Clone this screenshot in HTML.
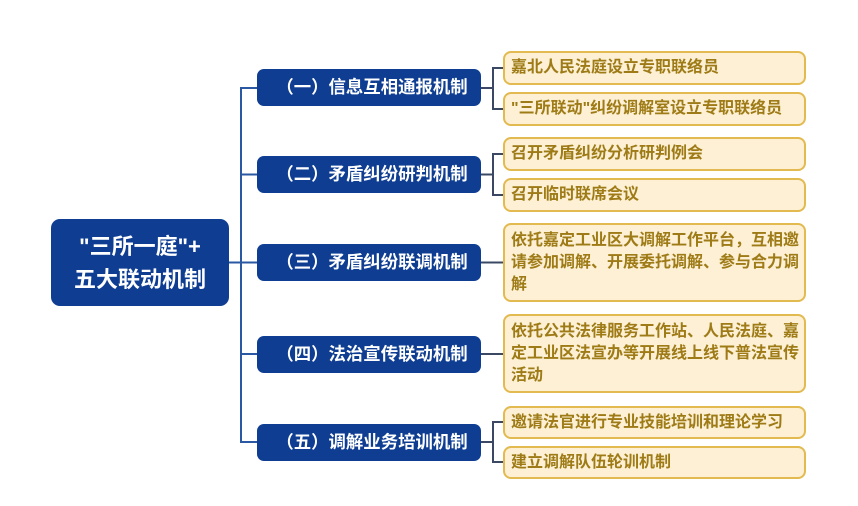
<!DOCTYPE html>
<html><head><meta charset="utf-8"><style>
html,body{margin:0;padding:0;background:#fff;}
body{width:858px;height:506px;position:relative;overflow:hidden;font-family:"Liberation Sans","Noto Sans CJK SC",sans-serif;}
.root{position:absolute;left:51px;top:219px;width:178px;height:87px;background:#0e3d92;border-radius:9px;color:#fff;font-weight:bold;font-size:22px;line-height:33px;text-align:center;display:flex;flex-direction:column;justify-content:center;}
.l1{position:absolute;left:257px;width:224px;height:37px;background:#0e3d92;border-radius:7px;color:#fff;font-weight:bold;font-size:17.4px;line-height:37px;text-align:center;padding-left:6px;box-sizing:border-box;white-space:nowrap;}
.lf{position:absolute;left:503px;width:303px;background:#fdf0d4;border:2px solid #e2ba50;border-radius:8px;box-sizing:border-box;color:#9e7b16;font-weight:bold;font-size:16px;line-height:22px;padding:0 1px 0 6px;display:flex;align-items:center;}
svg{position:absolute;left:0;top:0;}
</style></head><body>
<svg width="858" height="506">
<g fill="none" stroke="#2a58a2" stroke-width="2">
<path d="M229 262.5 H241"/>
<path d="M257 88 H241 V442 H257"/>
<path d="M241 174.5 H257"/>
<path d="M241 262.5 H257"/>
<path d="M241 354 H257"/>
</g>
<g fill="none" stroke="#3b4864" stroke-width="2">
<path d="M481 88 H493"/><path d="M503 68 H493 V109 H503"/>
<path d="M481 174.5 H493"/><path d="M503 154 H493 V195 H503"/>
<path d="M481 262.5 H503"/>
<path d="M481 354 H503"/>
<path d="M481 442 H493"/><path d="M503 422 H493 V462 H503"/>
</g>
</svg>
<div class="root"><div>"三所一庭"+</div><div>五大联动机制</div></div>
<div class="l1" style="top:69px">（一）信息互相通报机制</div>
<div class="l1" style="top:156px">（二）矛盾纠纷研判机制</div>
<div class="l1" style="top:244px">（三）矛盾纠纷联调机制</div>
<div class="l1" style="top:336px">（四）法治宣传联动机制</div>
<div class="l1" style="top:424px">（五）调解业务培训机制</div>
<div class="lf" style="top:51px;height:34px">嘉北人民法庭设立专职联络员</div>
<div class="lf" style="top:92px;height:34px">"三所联动"纠纷调解室设立专职联络员</div>
<div class="lf" style="top:137px;height:34px">召开矛盾纠纷分析研判例会</div>
<div class="lf" style="top:178px;height:34px">召开临时联席会议</div>
<div class="lf" style="top:223px;height:79px"><div>依托嘉定工业区大调解工作平台，互相邀<br>请参加调解、开展委托调解、参与合力调<br>解</div></div>
<div class="lf" style="top:314px;height:79px"><div>依托公共法律服务工作站、人民法庭、嘉<br>定工业区法宣办等开展线上线下普法宣传<br>活动</div></div>
<div class="lf" style="top:406px;height:33px">邀请法官进行专业技能培训和理论学习</div>
<div class="lf" style="top:446px;height:33px">建立调解队伍轮训机制</div>
</body></html>
